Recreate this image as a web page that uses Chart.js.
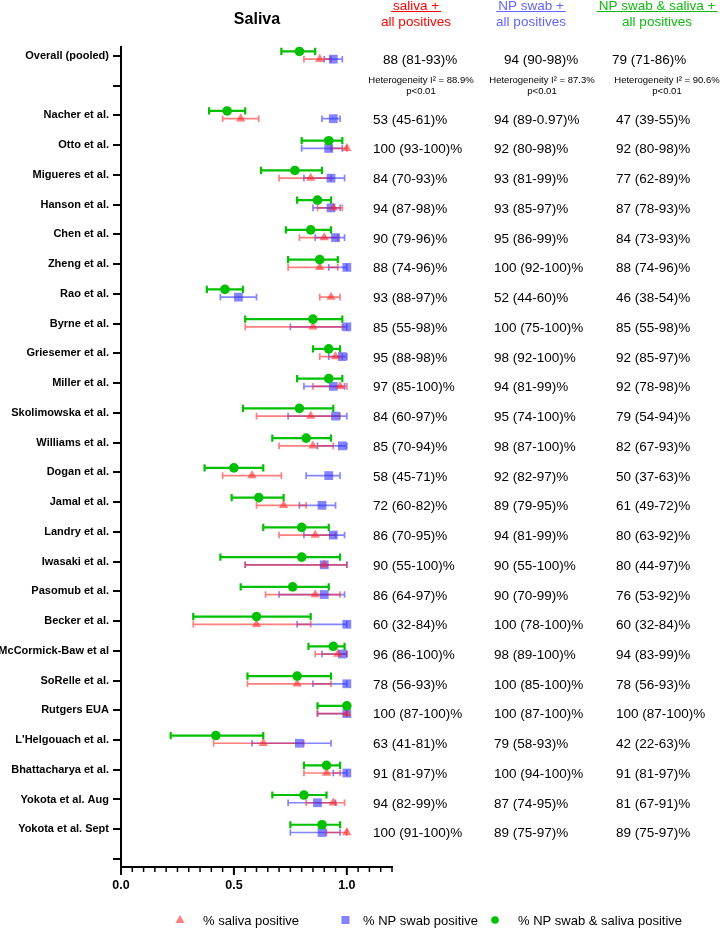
<!DOCTYPE html>
<html>
<head>
<meta charset="utf-8">
<script src="https://cdn.jsdelivr.net/npm/chart.js@4.4.1/dist/chart.umd.min.js"></script>
<style>
html,body{margin:0;padding:0;background:#fff;}
#wrap{position:relative;width:720px;height:932px;}
</style>
</head>
<body>
<div id="wrap"><canvas id="c" width="720" height="932"></canvas></div>
<script>
const rowLabels = ['Overall (pooled)','','Nacher et al.','Otto et al.','Migueres et al.','Hanson et al.','Chen et al.','Zheng et al.','Rao et al.','Byrne et al.','Griesemer et al.','Miller et al.','Skolimowska et al.','Williams et al.','Dogan et al.','Jamal et al.','Landry et al.','Iwasaki et al.','Pasomub et al.','Becker et al.','McCormick-Baw et al','SoRelle et al.','Rutgers EUA',"L'Helgouach et al.",'Bhattacharya et al.','Yokota et al. Aug','Yokota et al. Sept',''];

const salivaPct = [88,null,53,100,84,94,90,88,93,85,95,97,84,85,58,72,86,90,86,60,96,78,100,63,91,94,100,null];
const salivaLo  = [81,null,45,93,70,87,79,74,88,55,88,85,60,70,45,60,70,55,64,32,86,56,87,41,81,82,91,null];
const salivaHi  = [93,null,61,100,93,98,96,96,97,98,98,100,97,94,71,82,95,100,97,84,100,93,100,81,97,99,100,null];

const npPct = [94,null,94,92,93,93,95,100,52,100,98,94,95,98,92,89,94,90,90,100,98,100,100,79,100,87,89,null];
const npLo  = [90,null,89,80,81,85,86,92,44,75,92,81,74,87,82,79,81,55,70,78,89,85,87,58,94,74,75,null];
const npHi  = [98,null,97,98,99,97,99,100,60,100,100,99,100,100,97,95,99,100,99,100,100,100,100,93,100,95,97,null];

const bothPct = [79,null,47,92,77,87,84,88,46,85,92,92,79,82,50,61,80,80,76,60,94,78,100,42,91,81,89,null];
const bothLo  = [71,null,39,80,62,78,73,74,38,55,85,78,54,67,37,49,63,44,53,32,83,56,87,22,81,67,75,null];
const bothHi  = [86,null,55,98,89,93,93,96,54,98,97,98,94,93,63,72,92,97,92,84,99,93,100,63,97,91,97,null];

const textOverrides = {np: {2: '94 (89-0.97)%'}};
const heterogeneity = ['Heterogeneity I\u00B2 = 88.9%','Heterogeneity I\u00B2 = 87.3%','Heterogeneity I\u00B2 = 90.6%'];
const heterogeneityP = 'p<0.01';
const xTickLabels = {0:'0.0', 50:'0.5', 100:'1.0'};

const RED = 'rgba(255,40,40,0.6)';
const BLUE = 'rgba(50,50,255,0.6)';
const GREEN = '#00c000';
const FONT = '"Liberation Sans", Arial, Helvetica, sans-serif';

function pts(vals, off){
  const out = [];
  vals.forEach((v,i)=>{ if(v!==null) out.push({x:v/100, y:i+off, row:i}); });
  return out;
}

const offBoth = -0.15, offOther = 0.11;

const datasets = [
  {label:'% NP swab & saliva positive', data: pts(bothPct, offBoth), lo: bothLo, hi: bothHi, off: offBoth,
   pointStyle:'circle', pointRadius:4.8, backgroundColor:GREEN, borderColor:GREEN, borderWidth:0, order:0,
   barColor: GREEN, barWidth: 2.2, cap: 3.6},
  {label:'% saliva positive', data: pts(salivaPct, offOther), lo: salivaLo, hi: salivaHi, off: offOther,
   pointStyle:'triangle', pointRadius:5.4, backgroundColor:RED, borderColor:'rgba(0,0,0,0)', borderWidth:0, order:1,
   barColor: RED, barWidth: 1.7, cap: 3.3},
  {label:'% NP swab positive', data: pts(npPct, offOther), lo: npLo, hi: npHi, off: offOther,
   pointStyle:'rect', pointRadius:6.2, backgroundColor:BLUE, borderColor:'rgba(0,0,0,0)', borderWidth:0, order:2,
   barColor: BLUE, barWidth: 1.7, cap: 3.3}
];

function fmt(v,lo,hi){ return v + ' (' + lo + '-' + hi + ')%'; }

const annot = {
  id:'annot',
  beforeDatasetsDraw(chart){
    const ctx = chart.ctx, xs = chart.scales.x, ys = chart.scales.y;
    [2,1,0].forEach(di=>{
      const ds = chart.data.datasets[di];
      ctx.save();
      ctx.strokeStyle = ds.barColor; ctx.lineWidth = ds.barWidth;
      ds.lo.forEach((lo,i)=>{
        if(lo===null) return;
        const x1 = xs.getPixelForValue(lo/100), x2 = xs.getPixelForValue(ds.hi[i]/100);
        const y = ys.getPixelForValue(i+ds.off);
        ctx.beginPath();
        ctx.moveTo(x1,y); ctx.lineTo(x2,y);
        ctx.moveTo(x1,y-ds.cap); ctx.lineTo(x1,y+ds.cap);
        ctx.moveTo(x2,y-ds.cap); ctx.lineTo(x2,y+ds.cap);
        ctx.stroke();
      });
      ctx.restore();
    });
  },
  afterDraw(chart){
    const ctx = chart.ctx, xs = chart.scales.x, ys = chart.scales.y, ca = chart.chartArea;
    ctx.save();
    ctx.strokeStyle = '#000';
    for(let k=0;k<=24;k++){
      const v = k*5;
      const px = xs.getPixelForValue(v/100);
      const major = (v in xTickLabels);
      ctx.lineWidth = major ? 2 : 1.5;
      ctx.beginPath(); ctx.moveTo(px, ca.bottom); ctx.lineTo(px, ca.bottom + (major?8:5)); ctx.stroke();
    }
    ctx.fillStyle = '#000';
    ctx.font = 'bold 16px ' + FONT;
    ctx.textAlign = 'center'; ctx.textBaseline = 'middle';
    ctx.fillText('Saliva', 257, 20);
    const heads = [
      {l1:'saliva +', l2:'all positives', c:'#ff0000', x:416},
      {l1:'NP swab +', l2:'all positives', c:'#6464ff', x:531},
      {l1:'NP swab & saliva +', l2:'all positives', c:'#10b810', x:657}
    ];
    ctx.font = '13.5px ' + FONT;
    heads.forEach(h=>{
      ctx.fillStyle = h.c; ctx.strokeStyle = h.c; ctx.lineWidth = 1;
      ctx.fillText(h.l1, h.x, 6);
      const w = ctx.measureText(h.l1).width;
      ctx.beginPath(); ctx.moveTo(h.x-w/2-2, 11.5); ctx.lineTo(h.x+w/2+2, 11.5); ctx.stroke();
      ctx.fillText(h.l2, h.x, 22);
    });
    ctx.fillStyle = '#000';
    ctx.textAlign = 'left';
    ctx.font = '13.5px ' + FONT;
    rowLabels.forEach((lab,i)=>{
      if(salivaPct[i]===null) return;
      const y = ys.getPixelForValue(i) + 4.5;
      const cols = i===0 ? [383,504,612] : [373,494,616];
      const tS = fmt(salivaPct[i], salivaLo[i], salivaHi[i]);
      const tN = textOverrides.np[i] || fmt(npPct[i], npLo[i], npHi[i]);
      const tB = fmt(bothPct[i], bothLo[i], bothHi[i]);
      ctx.fillText(tS, cols[0], y);
      ctx.fillText(tN, cols[1], y);
      ctx.fillText(tB, cols[2], y);
    });
    ctx.textAlign = 'center';
    ctx.font = '9.5px ' + FONT;
    [421,542,667].forEach((cx,k)=>{
      ctx.fillText(heterogeneity[k], cx, 80);
      ctx.fillText(heterogeneityP, cx, 91);
    });
    const ly = 920;
    ctx.font = '13px ' + FONT;
    ctx.textAlign = 'left';
    ctx.fillStyle = RED;
    ctx.beginPath(); ctx.moveTo(180, ly-5); ctx.lineTo(184.5, ly+3); ctx.lineTo(175.5, ly+3); ctx.closePath(); ctx.fill();
    ctx.fillStyle = BLUE; ctx.fillRect(341.5, ly-4, 8, 8);
    ctx.fillStyle = GREEN; ctx.beginPath(); ctx.arc(495, ly, 3.8, 0, Math.PI*2); ctx.fill();
    ctx.fillStyle = '#000';
    ctx.fillText('% saliva positive', 203, ly+1);
    ctx.fillText('% NP swab positive', 363, ly+1);
    ctx.fillText('% NP swab & saliva positive', 518, ly+1);
    ctx.restore();
  }
};

new Chart(document.getElementById('c'), {
  type:'scatter',
  data:{datasets},
  options:{
    responsive:false,
    animation:false,
    layout:{padding:{top:47, right:328, left:0, bottom:0}},
    plugins:{legend:{display:false}, tooltip:{enabled:false}},
    scales:{
      x:{
        type:'linear', min:0, max:1.2,
        afterBuildTicks(s){ const t=[]; for(let k=0;k<=24;k++) t.push({value:k*5/100}); s.ticks=t; },
        afterFit(s){ s.height = 65; },
        border:{display:true, color:'#000', width:2},
        grid:{display:true, drawOnChartArea:false, drawTicks:true, tickLength:8, color:'rgba(0,0,0,0)'},
        ticks:{autoSkip:false, maxRotation:0, padding:3, color:'#000', font:{family:FONT, size:12.5, weight:'bold'},
          callback(v){ const k=Math.round(v*100); return (k in xTickLabels) ? xTickLabels[k] : ''; }}
      },
      y:{
        type:'linear', reverse:true, min:-0.3, max:27.27,
        afterBuildTicks(s){ s.ticks = rowLabels.map((_,i)=>({value:i})); },
        afterFit(s){ s.width = 121; },
        border:{display:true, color:'#000', width:2},
        grid:{display:true, drawOnChartArea:false, drawTicks:true, tickLength:8, color:'#000', lineWidth:2},
        ticks:{autoSkip:false, padding:4, color:'#000', font:{family:FONT, size:11, weight:'bold'},
          callback(v){ const i=Math.round(v); return rowLabels[i] || ''; }}
      }
    }
  },
  plugins:[annot]
});
</script>
</body>
</html>
